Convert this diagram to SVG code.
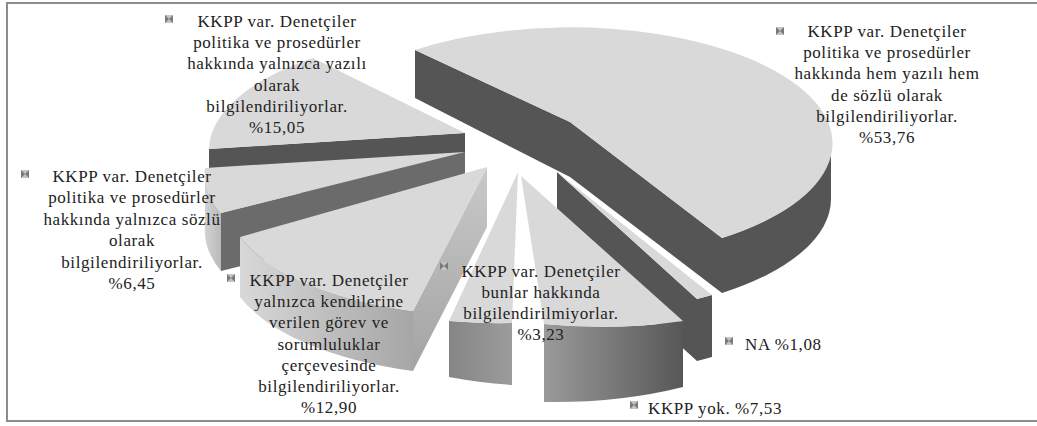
<svg xmlns="http://www.w3.org/2000/svg" width="1037" height="426" viewBox="0 0 1037 426">
<style>
.top{fill:#d9d9d9}
.dark{fill:#555555}
.mid{fill:#6b6b6b}
.lbl{font-size:17px;fill:#222222;letter-spacing:0.6px;text-anchor:middle}
.frame{fill:none;stroke:#8c8c8c;stroke-width:2}
</style>
<defs>
<linearGradient id="w1290" x1="0" y1="0" x2="1" y2="0"><stop offset="0" stop-color="#d8d8d8"/><stop offset="1" stop-color="#a6a6a6"/></linearGradient>
<linearGradient id="f1290" x1="0" y1="0" x2="0" y2="1"><stop offset="0" stop-color="#c9c9c9"/><stop offset="1" stop-color="#a3a3a3"/></linearGradient>
<linearGradient id="w645" x1="0" y1="0" x2="1" y2="0"><stop offset="0" stop-color="#d2d2d2"/><stop offset="1" stop-color="#bababa"/></linearGradient>
<linearGradient id="w323" x1="0" y1="0" x2="1" y2="0"><stop offset="0" stop-color="#858585"/><stop offset="1" stop-color="#9c9c9c"/></linearGradient>
<linearGradient id="w753" x1="0" y1="0" x2="1" y2="0"><stop offset="0" stop-color="#9a9a9a"/><stop offset="1" stop-color="#575757"/></linearGradient>
<g id="mk"><rect x="0" y="0" width="8" height="8" fill="#c4c4c4"/><polygon points="0,0 4,4 0,8" fill="#7a7a7a"/><polygon points="8,0 4,4 8,8" fill="#7a7a7a"/></g>
</defs>
<rect x="0" y="0" width="1037" height="426" fill="#ffffff"/>
<rect class="frame" x="7" y="3" width="1040" height="418"/>

<g id="slice-53-76">
<path class="dark" d="M415,50 L570,122 L722,238 L722,293 L570,177 L415,98 Z"/>
<path class="dark" d="M831,144 A262.5 116 0 0 1 722,238 L722,293 A262.5 116 0 0 0 831,199 Z"/>
<path class="top" d="M570,122 L415,50 A262 116 0 1 1 722,238 Z"/>
</g>
<g id="slice-15-05">
<path class="dark" d="M209,149 L465,133 L465,183 L209,199 Z"/>
<path class="top" d="M465,133 L313,58 A262 116 0 0 0 209,149 Z"/>
</g>
<g id="slice-6-45">
<path class="mid" d="M465,152 L221,213 L221,271 L465,210 Z"/>
<path fill="url(#w645)" d="M205,168 A262 116 0 0 0 221,213 L221,271 A262 116 0 0 1 205,226 Z"/>
<path class="top" d="M465,152 L205,168 A262 116 0 0 0 221,213 Z"/>
</g>
<g id="slice-12-90">
<path fill="url(#f1290)" d="M487,167 L413,311 L413,371 L487,227 Z"/>
<path fill="url(#w1290)" d="M240,237 A262 116 0 0 0 413,311 L413,371 A262 116 0 0 1 240,297 Z"/>
<path class="top" d="M487,167 L240,237 A262 116 0 0 0 413,311 Z"/>
</g>
<g id="slice-1-08">
<path class="dark" d="M557,172 L697,299 L697,361 L557,234 Z"/>
<path class="dark" d="M697,299 L712,295 L712,357 L697,361 Z"/>
<path class="top" d="M557,172 L712,295 L697,299 Z"/>
</g>
<g id="slice-7-53">
<path fill="url(#w753)" d="M544,324 A262 116 0 0 0 683,321 L683,387 A262 116 0 0 1 544,402 Z"/>
<path class="top" d="M521,176 L544,324 A262 116 0 0 0 683,321 Z"/>
</g>
<g id="slice-3-23">
<path fill="url(#w323)" d="M449,321 A262 116 0 0 0 512,323 L512,385 A262 116 0 0 1 449,377 Z"/>
<path class="top" d="M518,172 L449,321 A262 116 0 0 0 512,323 Z"/>
</g>

<g id="label-15-05">
<use href="#mk" x="165" y="15"/>
<text class="lbl" font-family="Liberation Serif, DejaVu Serif, serif"><tspan x="277" y="27">KKPP var. Denetçiler</tspan><tspan x="277" y="48.2">politika ve prosedürler</tspan><tspan x="277" y="69.4">hakkında yalnızca yazılı</tspan><tspan x="277" y="90.6">olarak</tspan><tspan x="277" y="111.8">bilgilendiriliyorlar.</tspan><tspan x="277" y="133">%15,05</tspan></text>
</g>
<g id="label-53-76">
<use href="#mk" x="776" y="27"/>
<text class="lbl" font-family="Liberation Serif, DejaVu Serif, serif"><tspan x="887" y="37">KKPP var. Denetçiler</tspan><tspan x="887" y="58.2">politika ve prosedürler</tspan><tspan x="887" y="79.4">hakkında hem yazılı hem</tspan><tspan x="887" y="100.6">de sözlü olarak</tspan><tspan x="887" y="121.8">bilgilendiriliyorlar.</tspan><tspan x="887" y="143">%53,76</tspan></text>
</g>
<g id="label-6-45">
<use href="#mk" x="21" y="170"/>
<text class="lbl" font-family="Liberation Serif, DejaVu Serif, serif"><tspan x="132" y="182">KKPP var. Denetçiler</tspan><tspan x="132" y="203.4">politika ve prosedürler</tspan><tspan x="132" y="224.8">hakkında yalnızca sözlü</tspan><tspan x="132" y="246.2">olarak</tspan><tspan x="132" y="267.6">bilgilendiriliyorlar.</tspan><tspan x="132" y="289">%6,45</tspan></text>
</g>
<g id="label-12-90">
<use href="#mk" x="227" y="274"/>
<text class="lbl" font-family="Liberation Serif, DejaVu Serif, serif"><tspan x="329" y="286">KKPP var. Denetçiler</tspan><tspan x="329" y="307.2">yalnızca kendilerine</tspan><tspan x="329" y="328.4">verilen görev ve</tspan><tspan x="329" y="349.6">sorumluluklar</tspan><tspan x="329" y="370.8">çerçevesinde</tspan><tspan x="329" y="392">bilgilendiriliyorlar.</tspan><tspan x="329" y="413">%12,90</tspan></text>
</g>
<g id="label-3-23">
<use href="#mk" x="440" y="262"/>
<text class="lbl" font-family="Liberation Serif, DejaVu Serif, serif"><tspan x="541" y="277">KKPP var. Denetçiler</tspan><tspan x="541" y="298">bunlar hakkında</tspan><tspan x="541" y="319">bilgilendirilmiyorlar.</tspan><tspan x="541" y="340">%3,23</tspan></text>
</g>
<g id="label-1-08">
<use href="#mk" x="725" y="337"/>
<text class="lbl" font-family="Liberation Serif, DejaVu Serif, serif" style="text-anchor:start"><tspan x="745" y="350">NA %1,08</tspan></text>
</g>
<g id="label-7-53">
<use href="#mk" x="630" y="401"/>
<text class="lbl" font-family="Liberation Serif, DejaVu Serif, serif" style="text-anchor:start"><tspan x="648" y="414">KKPP yok. %7,53</tspan></text>
</g>
</svg>
